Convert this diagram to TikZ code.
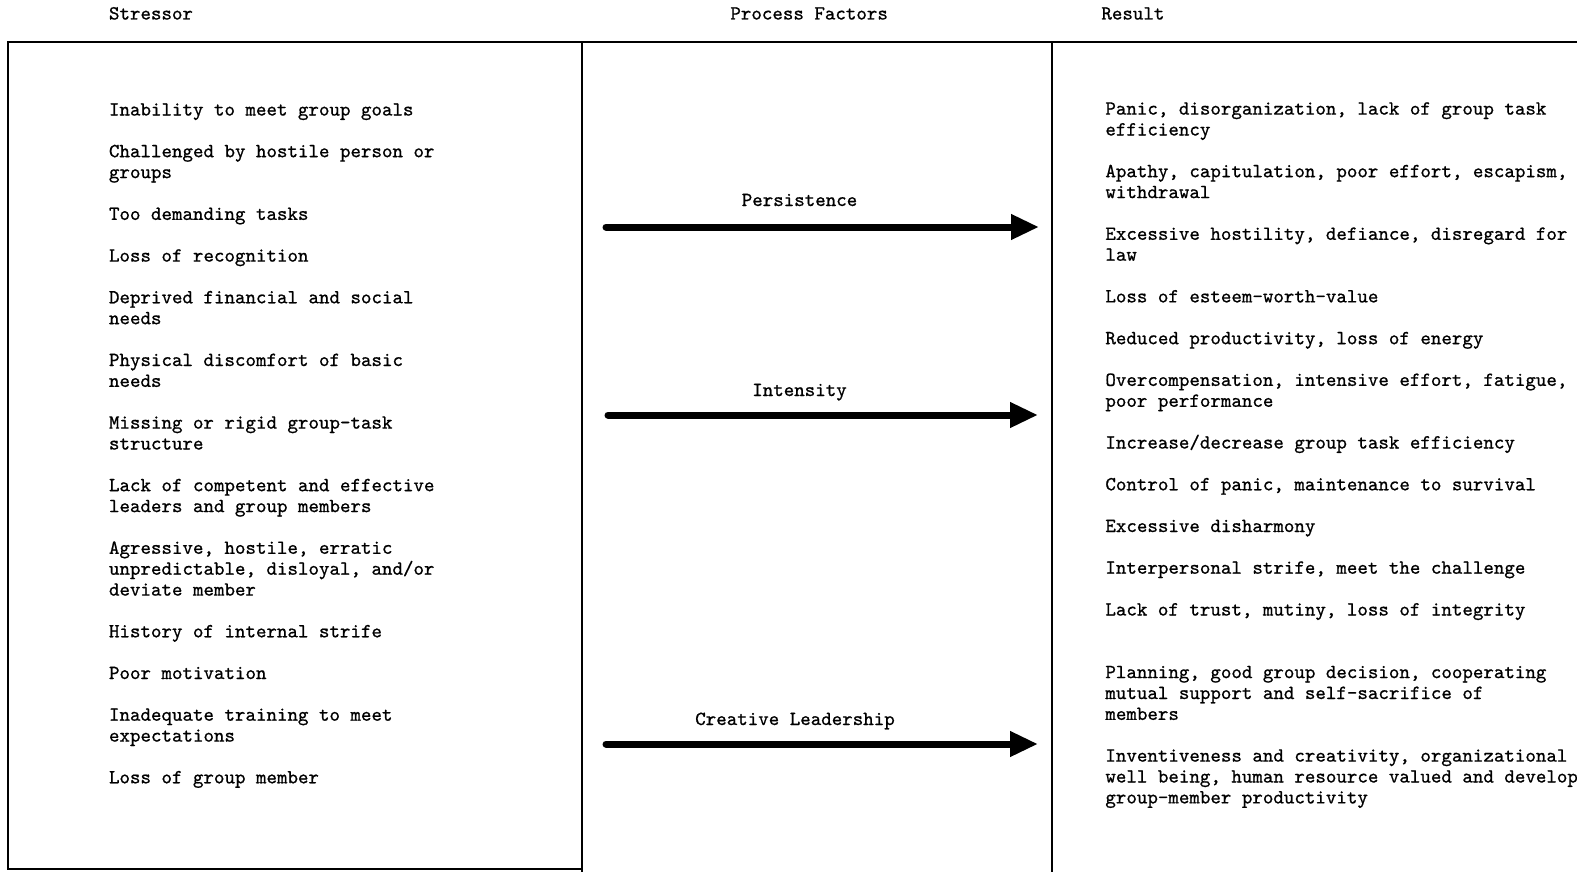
\documentclass[tikz,border=0pt]{standalone}
\usepackage{fontspec}
\usepackage{tikz}
\usetikzlibrary{arrows.meta, positioning}
\newfontfamily\typedfamily{lmmono10-regular.otf}[FakeBold=0.8]
\newcommand{\typedfont}{\fontsize{10}{10.45}\selectfont\typedfamily}
\newcommand{\typedspace}{\spaceskip 5.25pt\relax \xspaceskip 5.25pt\relax}

\begin{document}
\begin{tikzpicture}[
        x=0.5pt, y=-0.5pt,
        every node/.style={font=\typedfont, inner sep=0pt},
        heading/.style={anchor=base west},
        entry/.style={anchor=base west, text width=260pt, align=left, execute at begin node=\typedspace},
        factor/.style={anchor=base},
        flow/.style={line width=3.5pt, line cap=round, -{Triangle[length=14pt, width=12pt]}},
        frame/.style={line width=1.3pt},
        >=Stealth
    ]

    \useasboundingbox (0,0) rectangle (1577,872);
    \clip (0,0) rectangle (1577,872);

    % column heads
    \node[heading] (stressor) at (108.6,19.5)  {Stressor};
    \node[heading] (process)  at (730,19.5)    {Process Factors};
    \node[heading] (result)   at (1101,19.5)   {Result};

    % frame
    \draw[frame] (7,42) -- (1577,42);
    \draw[frame] (8,42) -- (8,869) -- (582,869);
    \draw[frame] (582,42) -- (582,872);
    \draw[frame] (1052,42) -- (1052,872);

    % stressors
    \node[entry] (s1)  at (108.6,115.5) {Inability to meet group goals};
    \node[entry] (s2)  at (108.6,157.2) {Challenged by hostile person or\\groups};
    \node[entry] (s3)  at (108.6,219.9) {Too demanding tasks};
    \node[entry] (s4)  at (108.6,261.6) {Loss of recognition};
    \node[entry] (s5)  at (108.6,303.3) {Deprived financial and social\\needs};
    \node[entry] (s6)  at (108.6,366.0) {Physical discomfort of basic\\needs};
    \node[entry] (s7)  at (108.6,428.6) {Missing or rigid group-task\\structure};
    \node[entry] (s8)  at (108.6,491.2) {Lack of competent and effective\\leaders and group members};
    \node[entry] (s9)  at (108.6,553.8) {Agressive, hostile, erratic\\unpredictable, disloyal, and/or\\deviate member};
    \node[entry] (s10) at (108.6,637.3) {History of internal strife};
    \node[entry] (s11) at (108.6,679.0) {Poor motivation};
    \node[entry] (s12) at (108.6,720.7) {Inadequate training to meet\\expectations};
    \node[entry] (s13) at (108.6,783.3) {Loss of group member};

    % process factors
    \node[factor] (persist)   at (799.5,206) {Persistence};
    \node[factor] (intense)   at (799.5,396) {Intensity};
    \node[factor] (creative)  at (795,725)   {Creative Leadership};

    \coordinate (persist-a)  at (606,227);
    \coordinate (persist-b)  at (1039,227);
    \coordinate (intense-a)  at (608,415);
    \coordinate (intense-b)  at (1038,415);
    \coordinate (creative-a) at (606,744);
    \coordinate (creative-b) at (1038,744);

    \draw[flow] (persist-a) -- (persist-b);
    \draw[flow] (intense-a) -- (intense-b);
    \draw[flow] (creative-a) -- (creative-b);

    % results
    \node[entry] (r1)  at (1105,114.6) {Panic, disorganization, lack of group task\\efficiency};
    \node[entry] (r2)  at (1105,177.2) {Apathy, capitulation, poor effort, escapism,\\withdrawal};
    \node[entry] (r3)  at (1105,239.8) {Excessive hostility, defiance, disregard for\\law};
    \node[entry] (r4)  at (1105,302.4) {Loss of esteem-worth-value};
    \node[entry] (r5)  at (1105,344.2) {Reduced productivity, loss of energy};
    \node[entry] (r6)  at (1105,385.9) {Overcompensation, intensive effort, fatigue,\\poor performance};
    \node[entry] (r7)  at (1105,448.5) {Increase/decrease group task efficiency};
    \node[entry] (r8)  at (1105,490.3) {Control of panic, maintenance to survival};
    \node[entry] (r9)  at (1105,532.0) {Excessive disharmony};
    \node[entry] (r10) at (1105,573.7) {Interpersonal strife, meet the challenge};
    \node[entry] (r11) at (1105,615.5) {Lack of trust, mutiny, loss of integrity};
    \node[entry] (r12) at (1105,678.1) {Planning, good group decision, cooperating\\mutual support and self-sacrifice of\\members};
    \node[entry] (r13) at (1105,761.6) {Inventiveness and creativity, organizational\\well being, human resource valued and develop\\group-member productivity};

\end{tikzpicture}
\end{document}
